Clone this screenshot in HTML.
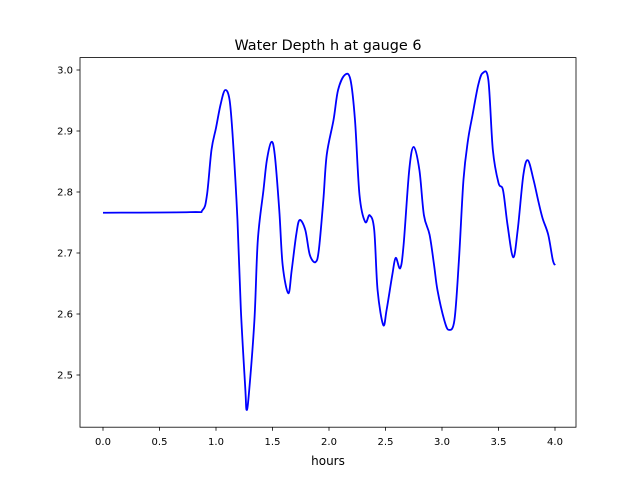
<!DOCTYPE html>
<html><head><meta charset="utf-8"><style>
body{margin:0;background:#fff;}
svg{display:block;font-family:"DejaVu Sans","Liberation Sans",sans-serif;}
</style></head><body>
<svg id="chart" width="640" height="480" viewBox="0 0 640 480">
<rect x="0" y="0" width="640" height="480" fill="#fff"/>
<text x="328" y="50" text-anchor="middle" font-size="14.4" fill="#000">Water Depth h at gauge 6</text>
<g id="plot"></g>
<rect x="80" y="57.6" width="496" height="369.6" fill="none" stroke="#000" stroke-width="0.8"/>
<g id="xt"></g>
<g id="yt"></g>
<text x="328" y="465" text-anchor="middle" font-size="12">hours</text>
</svg>
<script>
const times=[0,0.77,0.88,0.92,0.96,1.0,1.04,1.08,1.12,1.15,1.19,1.22,1.26,1.27,1.29,1.34,1.37,1.42,1.45,1.49,1.52,1.56,1.59,1.64,1.67,1.71,1.74,1.79,1.83,1.88,1.91,1.95,1.98,2.04,2.08,2.14,2.19,2.23,2.27,2.32,2.36,2.4,2.43,2.48,2.51,2.56,2.59,2.63,2.66,2.71,2.75,2.8,2.84,2.89,2.93,2.96,3.02,3.06,3.11,3.15,3.19,3.23,3.27,3.32,3.36,3.41,3.45,3.5,3.54,3.58,3.63,3.67,3.72,3.76,3.81,3.85,3.89,3.94,3.98,4.0];
const depth=[2.766,2.767,2.770,2.795,2.869,2.905,2.943,2.967,2.951,2.885,2.754,2.607,2.475,2.443,2.467,2.590,2.721,2.803,2.852,2.882,2.861,2.770,2.680,2.634,2.672,2.730,2.754,2.738,2.697,2.685,2.705,2.787,2.861,2.918,2.967,2.992,2.984,2.918,2.795,2.751,2.762,2.738,2.639,2.582,2.607,2.664,2.692,2.675,2.713,2.836,2.874,2.836,2.762,2.730,2.680,2.639,2.590,2.574,2.590,2.689,2.820,2.885,2.926,2.975,2.995,2.984,2.869,2.815,2.803,2.746,2.693,2.738,2.828,2.852,2.820,2.787,2.757,2.730,2.689,2.680];
const xTicks=[0,0.5,1,1.5,2,2.5,3,3.5,4];
const xTickLabels=["0.0","0.5","1.0","1.5","2.0","2.5","3.0","3.5","4.0"];
const yTicks=[2.5,2.6,2.7,2.8,2.9,3.0];
const yTickLabels=["2.5","2.6","2.7","2.8","2.9","3.0"];
const NS="http://www.w3.org/2000/svg";
const X=t=>103+t*113;
const Y=h=>70+(3.0-h)*610;
function mk(tag,attrs,parent){const e=document.createElementNS(NS,tag);for(const k in attrs)e.setAttribute(k,attrs[k]);parent.appendChild(e);return e;}
const xt=document.getElementById('xt'),yt=document.getElementById('yt'),plot=document.getElementById('plot');
xTicks.forEach((v,i)=>{const x=X(v);
 const l=mk('line',{x1:x,x2:x,y1:427.2,y2:430.7,stroke:'#000','stroke-width':0.8},xt);
 
 
 const t=mk('text',{x:x,y:445,'text-anchor':'middle','font-size':10},xt);t.textContent=xTickLabels[i];
 
 
});
yTicks.forEach((v,i)=>{const y=Y(v);
 const l=mk('line',{x1:76.5,x2:80,y1:y,y2:y,stroke:'#000','stroke-width':0.8},yt);
 
 
 const t=mk('text',{x:73,y:y+3.6,'text-anchor':'end','font-size':10},yt);t.textContent=yTickLabels[i];
 
 
});
const pts=times.map((t,i)=>[X(t),Y(depth[i])]);
let d=`M${pts[0][0]},${pts[0][1]}`;
for(let i=0;i<pts.length-1;i++){
 const p0=pts[Math.max(i-1,0)],p1=pts[i],p2=pts[i+1],p3=pts[Math.min(i+2,pts.length-1)];
 const c1=[p1[0]+(p2[0]-p0[0])/6,p1[1]+(p2[1]-p0[1])/6];
 const c2=[p2[0]-(p3[0]-p1[0])/6,p2[1]-(p3[1]-p1[1])/6];
 d+=` C${c1[0]},${c1[1]} ${c2[0]},${c2[1]} ${p2[0]},${p2[1]}`;
}
const line=mk('path',{d:d,fill:'none',stroke:'#0000ff','stroke-width':1.8,'stroke-linejoin':'round'},plot);


</script>
</body></html>
